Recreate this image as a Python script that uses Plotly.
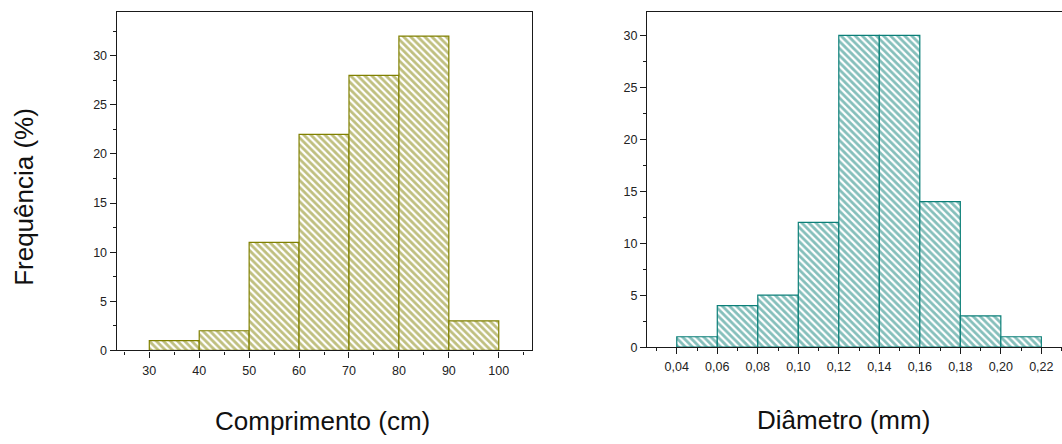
import plotly.graph_objects as go

# Data
comp_edges = [30, 40, 50, 60, 70, 80, 90, 100]
comp_freq = [1, 2, 11, 22, 28, 32, 3]
diam_edges = [0.04, 0.06, 0.08, 0.10, 0.12, 0.14, 0.16, 0.18, 0.20, 0.22]
diam_freq = [1, 4, 5, 12, 30, 30, 14, 3, 1]

olive = "#808000"
teal = "#0B7F78"
axcol = "#1a1a1a"

W, H = 1062, 444

def px(x):
    return x / W

def py(y):
    return (H - y) / H

fig = go.Figure()

fig.add_trace(go.Bar(
    x=comp_edges[:-1], y=comp_freq,
    width=[comp_edges[i + 1] - comp_edges[i] for i in range(len(comp_freq))],
    offset=0,
    marker=dict(color="white", line=dict(color=olive, width=1.2),
                pattern=dict(shape="\\", fgcolor=olive, bgcolor="white", size=5, solidity=0.55)),
    xaxis="x", yaxis="y", showlegend=False, hoverinfo="x+y"))

fig.add_trace(go.Bar(
    x=diam_edges[:-1], y=diam_freq,
    width=[diam_edges[i + 1] - diam_edges[i] for i in range(len(diam_freq))],
    offset=0,
    marker=dict(color="white", line=dict(color=teal, width=1.2),
                pattern=dict(shape="\\", fgcolor=teal, bgcolor="white", size=5, solidity=0.55)),
    xaxis="x2", yaxis="y2", showlegend=False, hoverinfo="x+y"))

font = "Liberation Sans, Arial, sans-serif"
L_dom_x = [px(116.7), px(531.7)]
L_dom_y = [py(356), py(11.7)]
R_dom_x = [px(647), 1.0]
R_dom_y = [py(352.7), py(11.7)]

L_xr = [23.47, 106.6]
L_yr = [0, 34.5]
R_xr = [0.0253, 0.2302]
R_yr = [0, 32.3]

common = dict(showline=True, linecolor=axcol, linewidth=1.3, showgrid=False, zeroline=False,
              ticks="outside", ticklen=6, tickwidth=1.2, tickcolor=axcol,
              tickfont=dict(family=font, size=12.5, color="#222"))

fig.update_layout(
    width=W, height=H, margin=dict(l=0, r=0, t=0, b=0),
    paper_bgcolor="white", plot_bgcolor="white",
    separators=",.", barmode="overlay",
    xaxis=dict(domain=L_dom_x, anchor="y", range=L_xr, dtick=10, tick0=0, mirror=True,
               ticklabelstandoff=2,
               minor=dict(ticks="outside", ticklen=3, dtick=5, tickcolor=axcol, tickwidth=1.2), **common),
    yaxis=dict(domain=L_dom_y, anchor="x", range=L_yr, dtick=5, tick0=0, mirror=True,
               minor=dict(ticks="outside", ticklen=3, dtick=2.5, tickcolor=axcol, tickwidth=1.2), **common),
    xaxis2=dict(domain=R_dom_x, anchor="y2", range=R_xr, dtick=0.02, tick0=0, tickformat=".2f", mirror=True,
                ticklabelstandoff=2,
                minor=dict(ticks="outside", ticklen=3, dtick=0.01, tickcolor=axcol, tickwidth=1.2), **common),
    yaxis2=dict(domain=R_dom_y, anchor="x2", range=R_yr, dtick=5, tick0=0, mirror=False,
                minor=dict(ticks="outside", ticklen=3, dtick=2.5, tickcolor=axcol, tickwidth=1.2), **common),
    # inward ticks on the top / right frame
    xaxis3=dict(overlaying="x", anchor="y", side="top", range=L_xr, dtick=5, tick0=0,
                ticks="inside", ticklen=3, tickwidth=1.2, tickcolor=axcol, showticklabels=False,
                showgrid=False, zeroline=False, showline=False),
    yaxis3=dict(overlaying="y", anchor="x", side="right", range=L_yr, dtick=2.5, tick0=0,
                ticks="inside", ticklen=3, tickwidth=1.2, tickcolor=axcol, showticklabels=False,
                showgrid=False, zeroline=False, showline=False),
    xaxis4=dict(overlaying="x2", anchor="y2", side="top", range=R_xr, dtick=0.01, tick0=0,
                ticks="inside", ticklen=3, tickwidth=1.2, tickcolor=axcol, showticklabels=False,
                showgrid=False, zeroline=False, showline=False),
)

tf = dict(family=font, size=26, color="#111")
fig.add_annotation(text="Frequência (%)", x=px(24), y=py(200), xref="paper", yref="paper",
                   showarrow=False, textangle=-90, font=tf, xanchor="center", yanchor="middle")
fig.add_annotation(text="Comprimento (cm)", x=px(322), y=py(428), xref="paper", yref="paper",
                   showarrow=False, font=tf, xanchor="center", yanchor="middle")
fig.add_annotation(text="Diâmetro (mm)", x=px(843), y=py(427), xref="paper", yref="paper",
                   showarrow=False, font=tf, xanchor="center", yanchor="middle")

fig.write_html("out.html", config={"displayModeBar": False},
               post_script="document.body.style.margin='0';document.body.style.overflow='hidden';")
